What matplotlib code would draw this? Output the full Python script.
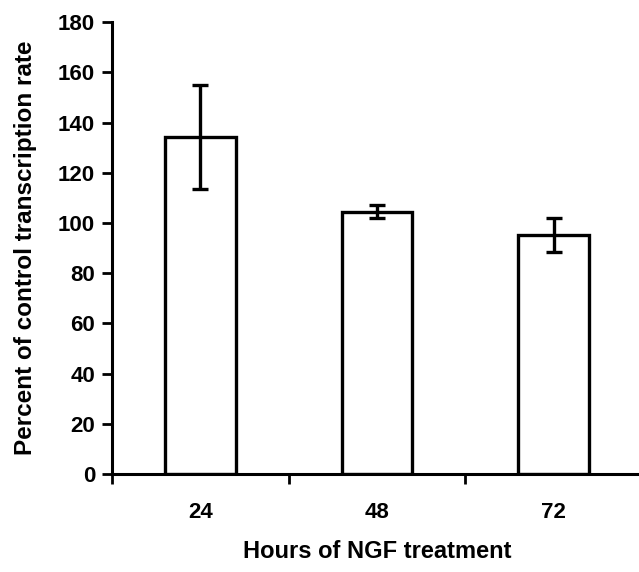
import matplotlib.pyplot as plt
from matplotlib.ticker import FixedLocator, NullFormatter

# Data
hours = ['24', '48', '72']
percent = [134.2, 104.5, 95.2]
err = [20.7, 2.6, 6.8]

plt.rcParams['font.family'] = ['Liberation Sans', 'DejaVu Sans']
plt.rcParams['font.weight'] = 'bold'

fig = plt.figure(figsize=(6.39, 5.72), dpi=100)
ax = fig.add_axes([0.175, 0.171, 0.83, 0.7905])

x = list(range(len(hours)))
ax.bar(x, percent, width=0.4, color='white', edgecolor='black', linewidth=2.4,
       yerr=err, capsize=6, error_kw={'elinewidth': 2.4, 'capthick': 2.4, 'ecolor': 'black'})

ax.set_xlim(-0.5, 2.5)
ax.set_ylim(0, 180)
ax.set_yticks(range(0, 181, 20))

# category boundary ticks, labels in the middle
ax.xaxis.set_major_locator(FixedLocator([-0.5, 0.5, 1.5, 2.5]))
ax.xaxis.set_major_formatter(NullFormatter())
ax.xaxis.set_minor_locator(FixedLocator(x))
ax.set_xticklabels(hours, minor=True)
ax.tick_params(axis='x', which='minor', length=0, pad=20, labelsize=16)
ax.tick_params(axis='x', which='major', direction='out', length=7, width=2)
ax.tick_params(axis='y', direction='out', length=7, width=2, labelsize=16, pad=5)

for s in ['top', 'right']:
    ax.spines[s].set_visible(False)
for s in ['left', 'bottom']:
    ax.spines[s].set_linewidth(2.2)

ax.set_xlabel('Hours of NGF treatment', fontsize=17, fontweight='bold', labelpad=12)
ax.set_ylabel('Percent of control transcription rate', fontsize=17.5, fontweight='bold', labelpad=15)

fig.savefig('out.png', dpi=100)
